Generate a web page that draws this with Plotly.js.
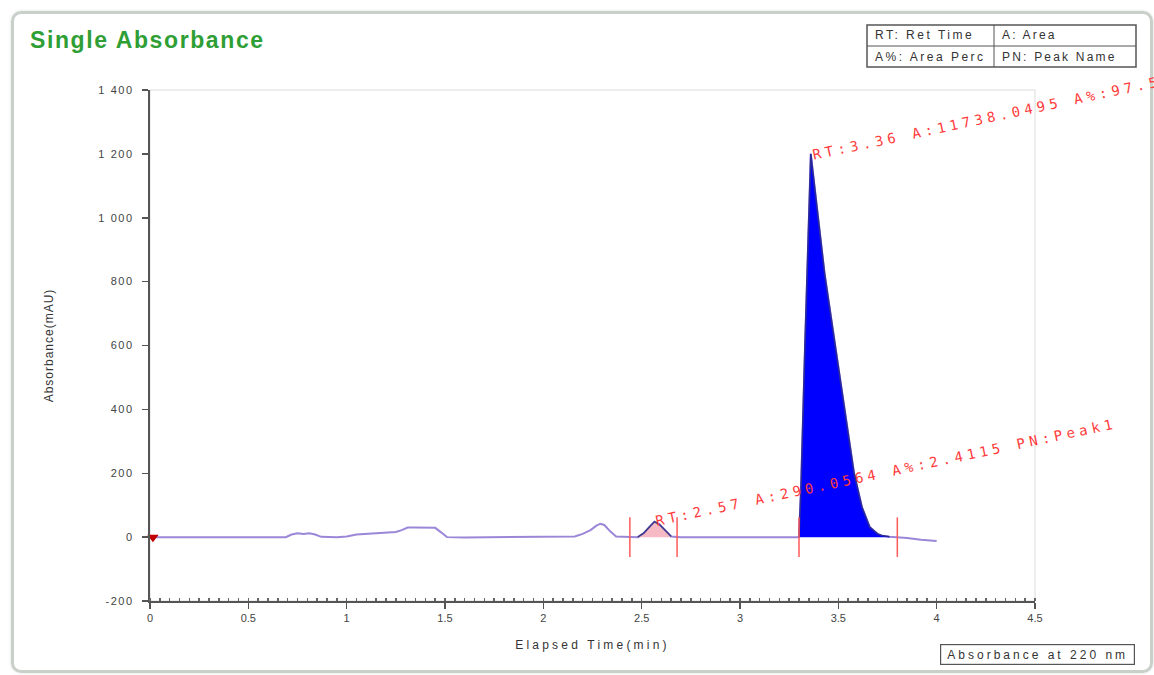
<!DOCTYPE html>
<html>
<head>
<meta charset="utf-8">
<script src="https://cdn.plot.ly/plotly-3.0.1.min.js"></script>
<style>
  html, body { margin: 0; padding: 0; background: #ffffff; overflow: hidden; }
  #frame { position: absolute; left: 11px; top: 11px; width: 1136px; height: 656px;
           border: 3px solid #c9d0c9; border-radius: 10px; box-shadow: 0 0 3px #d8ddd8; }
  #chart { position: absolute; left: 0; top: 0; width: 1154px; height: 675px; }
</style>
</head>
<body>
<div id="frame"></div>
<div id="chart"></div>
<script>
// ---- data ----
const time = [0, 0.02, 0.1, 0.3, 0.5, 0.69, 0.72, 0.75, 0.78, 0.81, 0.84, 0.87, 0.95, 1.0, 1.05, 1.1, 1.15, 1.2, 1.25, 1.28, 1.31, 1.35, 1.4, 1.45, 1.48, 1.51, 1.6, 1.8, 2.0, 2.1, 2.16, 2.2, 2.24, 2.27, 2.29, 2.31, 2.34, 2.37, 2.44, 2.48, 2.51, 2.54, 2.565, 2.59, 2.62, 2.65, 2.7, 3.0, 3.2, 3.3, 3.31, 3.33, 3.35, 3.36, 3.38, 3.43, 3.48, 3.53, 3.58, 3.62, 3.66, 3.7, 3.72, 3.76, 3.8, 3.85, 3.92, 4.0];
const absorbance = [0, 0, 0, 0, 0, 0, 8, 12, 10, 12, 8, 1, 0, 2, 8, 10, 11, 14, 16, 22, 30, 30, 30, 29, 15, 0, -1, 0, 0, 0, 2, 10, 22, 36, 42, 38, 18, 2, 0, 0, 12, 32, 48, 40, 20, 2, 0, 0, 0, 0, 150, 600, 1020, 1200, 1093, 826, 617, 407, 200, 94, 31, 10, 5, 1, 0, -3, -8, -12];

const peakNames = ["Peak1", "Peak2"];
const peakRT = [2.57, 3.36];
const peakStart = [2.48, 3.30];
const peakEnd = [2.65, 3.76];
const peakLabels = ["RT:2.57 A:290.0564 A%:2.4115 PN:Peak1",
                    "RT:3.36 A:11738.0495 A%:97.5885 PN:Peak2"];
const markTimes = [2.44, 2.68, 3.30, 3.80];
const injectMarker = {t: [0.015], a: [0]};

const xTickVals = [0, 0.5, 1, 1.5, 2, 2.5, 3, 3.5, 4, 4.5];
const xTickText = ["0", "0.5", "1", "1.5", "2", "2.5", "3", "3.5", "4", "4.5"];
const yTickVals = [-200, 0, 200, 400, 600, 800, 1000, 1200, 1400];
const yTickText = ["-200", "0", "200", "400", "600", "800", "1 000", "1 200", "1 400"];

const legendRows = [["RT: Ret Time", "A: Area"], ["A%: Area Perc", "PN: Peak Name"]];
const detectorLabel = "Absorbance at 220 nm";

// ---- build traces ----
function segment(t0, t1) {
  const xs = [], ys = [];
  time.forEach((t, i) => { if (t >= t0 - 1e-9 && t <= t1 + 1e-9) { xs.push(t); ys.push(absorbance[i]); } });
  return {xs, ys};
}
const fills = ["rgba(244,182,192,0.95)", "#0000ff"];
const outlines = ["#3b3a8c", "#2a2a9a"];
const traces = [];
peakNames.forEach((n, k) => {
  const s = segment(peakStart[k], peakEnd[k]);
  traces.push({x: s.xs, y: s.ys, type: 'scatter', mode: 'lines', fill: 'tozeroy',
    fillcolor: fills[k], line: {color: outlines[k], width: 1.6}, hoverinfo: 'skip', name: n});
});
traces.unshift({x: time, y: absorbance, type: 'scatter', mode: 'lines',
  line: {color: '#9c86d8', width: 2}, name: 'Absorbance'});
traces.push({x: injectMarker.t, y: injectMarker.a, type: 'scatter', mode: 'markers',
  marker: {symbol: 'triangle-down', size: 10, color: '#c00000'}, cliponaxis: false, name: 'inj'});

// ---- plot area geometry helpers (paper coords) ----
const L = 150, R = 1035, T = 90, B = 601;
const px = v => (v - L) / (R - L);
const py = v => (B - v) / (B - T);
const FONT = 'Liberation Sans, Arial, sans-serif';

const shapes = [
  {type: 'rect', xref: 'paper', yref: 'paper', x0: 0, x1: 1, y0: 0, y1: 1,
   line: {color: '#dcdcdc', width: 1}, layer: 'below'}
];
markTimes.forEach(t => shapes.push({type: 'line', xref: 'x', yref: 'y', x0: t, x1: t, y0: -62, y1: 62,
  line: {color: '#ff5a5a', width: 1.5}}));
// legend table
shapes.push({type: 'rect', xref: 'paper', yref: 'paper', x0: px(867), x1: px(1136), y0: py(25), y1: py(67),
  line: {color: '#555', width: 1.5}, fillcolor: '#fff'});
shapes.push({type: 'line', xref: 'paper', yref: 'paper', x0: px(867), x1: px(1136), y0: py(46), y1: py(46),
  line: {color: '#555', width: 1}});
shapes.push({type: 'line', xref: 'paper', yref: 'paper', x0: px(994), x1: px(994), y0: py(25), y1: py(67),
  line: {color: '#555', width: 1}});

const annotations = [];
const spreadSpec = [];   // [annotation index, letter spacing, alignment]
const shifts = [[231, 50], [251, 52]];
peakLabels.forEach((lab, k) => {
  const i = time.indexOf(peakRT[k]);
  const apexY = i >= 0 ? absorbance[i] : Math.max(...segment(peakStart[k], peakEnd[k]).ys);
  spreadSpec.push([annotations.length, 4.3, 'center']);
  annotations.push({x: peakRT[k], y: apexY, xref: 'x', yref: 'y', text: lab, showarrow: false,
    textangle: -12, xanchor: 'center', yanchor: 'middle', xshift: shifts[k][0], yshift: shifts[k][1],
    font: {family: 'DejaVu Sans Mono, monospace', size: 14, color: '#ff3b3b'}});
});
const colX = [873, 1000], rowY = [35.5, 56.5];
legendRows.forEach((row, r) => row.forEach((txt, c) => {
  spreadSpec.push([annotations.length, c === 0 ? 2.5 : 2.2, 'left']);
  annotations.push({
    xref: 'paper', yref: 'paper', x: px(colX[c]), y: py(rowY[r]), xanchor: 'left', yanchor: 'middle',
    text: txt, showarrow: false, font: {family: FONT, size: 12, color: '#333'}});
}));
spreadSpec.push([annotations.length, 3.0, 'center']);
annotations.push({xref: 'paper', yref: 'paper', x: px(1037.5), y: py(654), xanchor: 'center', yanchor: 'middle',
  text: detectorLabel, showarrow: false, bordercolor: '#555', borderwidth: 1.2, borderpad: 2, bgcolor: '#fff',
  width: 189, height: 15,
  font: {family: FONT, size: 12, color: '#333'}});

const layout = {
  width: 1154, height: 675,
  margin: {l: L, r: 1154 - R, t: T, b: 675 - B},
  paper_bgcolor: 'rgba(0,0,0,0)', plot_bgcolor: '#fff',
  showlegend: false,
  title: {text: 'Single Absorbance', x: 30 / 1154, xanchor: 'left', xref: 'container',
    y: 1 - 40 / 675, yanchor: 'middle', yref: 'container',
    font: {family: FONT, size: 23, weight: 'bold', color: '#2e9e35'}},
  xaxis: {range: [0, 4.5], tickvals: xTickVals, ticktext: xTickText, ticks: 'outside', ticklen: 6,
    tickcolor: '#555', tickwidth: 1.5, showline: true, linecolor: '#555', linewidth: 1.5,
    showgrid: false, zeroline: false,
    minor: {dtick: 0.05, tick0: 0, ticks: 'inside', ticklen: 3, tickcolor: '#666', showgrid: false},
    tickfont: {family: FONT, size: 11, color: '#444'},
    title: {text: 'Elapsed Time(min)', standoff: 18,
      font: {family: FONT, size: 12, color: '#333'}}},
  yaxis: {range: [-200, 1400], tickvals: yTickVals, ticktext: yTickText, ticks: 'outside', ticklen: 6,
    ticklabelstandoff: 6,
    tickcolor: '#555', tickwidth: 1.5, showline: true, linecolor: '#555', linewidth: 2,
    showgrid: false, zeroline: false,
    tickfont: {family: FONT, size: 11, color: '#444'},
    title: {text: 'Absorbance(mAU)', standoff: 50,
      font: {family: FONT, size: 12, color: '#333'}}},
  shapes: shapes,
  annotations: annotations
};

function spread(el, sp, align) {
  if (!el) return;
  const n = el.textContent.length;
  el.style.letterSpacing = sp + 'px';
  if (align === 'left') el.setAttribute('dx', (n * sp / 2).toFixed(1));
}

Plotly.newPlot('chart', traces, layout, {displayModeBar: false, staticPlot: true}).then(() => {
  spreadSpec.forEach(([idx, sp, al]) =>
    spread(document.querySelector('#chart .annotation[data-index="' + idx + '"] text.annotation-text'), sp, al));
  spread(document.querySelector('#chart .gtitle'), 1.6, 'none');
  spread(document.querySelector('#chart .xtitle'), 3.2, 'none');
  spread(document.querySelector('#chart .ytitle'), 1.0, 'none');
  document.querySelectorAll('#chart .ytick text').forEach(e => { e.style.letterSpacing = '1.6px'; });
});
</script>
</body>
</html>
